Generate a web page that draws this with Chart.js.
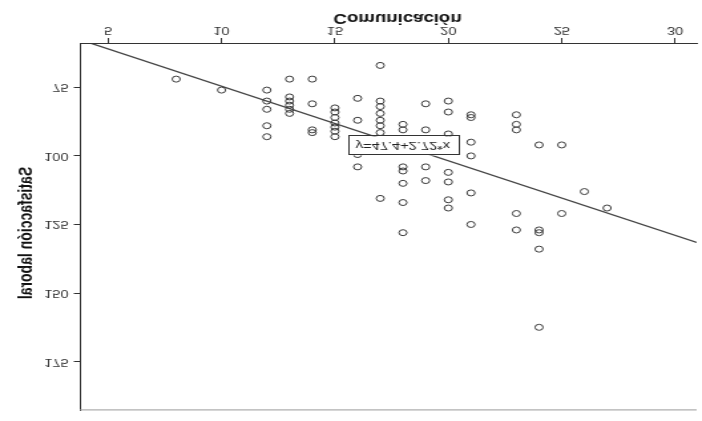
<!DOCTYPE html>
<html>
<head>
<meta charset="utf-8">
<script src="https://cdn.jsdelivr.net/npm/chart.js@4.4.1/dist/chart.umd.min.js"></script>
<style>
  html, body { margin: 0; padding: 0; background: #fff; overflow: hidden; }
  #wrap { width: 702px; height: 421px; position: relative; overflow: hidden; background: #fff; }
  /* the plot is drawn narrow, then stretched sideways and turned upside down */
  #c { position: absolute; left: 0; top: 0; width: 528px; height: 421px;
       transform-origin: 0 0; transform: matrix(1.3295, 0, 0, -1, 0, 421); }
</style>
</head>
<body>
<div id="wrap"><canvas id="c" width="528" height="421"></canvas></div>
<script>
// Comunicación (x) and Satisfacción laboral (y), one entry per respondent
const comunicacion = [
  8,
  10,
  12, 12, 12, 12, 12,
  13, 13, 13, 13, 13, 13,
  14, 14, 14, 14,
  15, 15, 15, 15, 15, 15, 15,
  16, 16, 16, 16,
  17, 17, 17, 17, 17, 17, 17, 17,
  18, 18, 18, 18, 18, 18, 18,
  19, 19, 19, 19,
  20, 20, 20, 20, 20, 20, 20,
  21, 21, 21, 21, 21, 21,
  23, 23, 23, 23, 23,
  24, 24, 24, 24, 24,
  25, 25,
  26,
  27
];
const satisfaccion = [
  72,
  76,
  76, 80, 83, 89, 93,
  72, 78.5, 80, 81.5, 83, 84.5,
  72, 81, 90.5, 91.5,
  82.5, 84, 86, 88, 89.5, 91, 93,
  79, 87, 99.5, 104,
  67, 80, 82, 84.5, 87, 89, 91.5, 115.5,
  88.5, 90.5, 104, 105.5, 110, 117, 128,
  81, 90.5, 104, 109,
  80, 84, 92, 106, 109.5, 116, 119,
  85, 86, 95, 100, 113.5, 125,
  85, 88.5, 90.5, 121, 127,
  96, 127, 128, 134, 162.5,
  96, 121,
  113,
  119
];

// fitted line y = 47.4 + 2.72*x
const intercept = 47.4;
const slope = 2.72;
const equationText = 'y=47.4+2.72*x';
const equationAtX = 18;

const xTicks = [5, 10, 15, 20, 25, 30];
const yTicks = [75, 100, 125, 150, 175];
const xRange = [3.75, 30.95];
const yRange = [59.2, 192.8];

const xTitle = 'Comunicación';
const yTitle = 'Satisfacción laboral';

const points = comunicacion.map((x, i) => ({ x, y: satisfaccion[i] }));
const fitLine = xRange.map(x => ({ x, y: intercept + slope * x }));

const FONT = '"Liberation Sans", Arial, sans-serif';

// closing line along the far side of the plot frame
const framePlugin = {
  id: 'frame',
  beforeDatasetsDraw(chart) {
    const { ctx, chartArea: a } = chart;
    ctx.save();
    ctx.strokeStyle = '#9a9a9a';
    ctx.lineWidth = 1;
    ctx.beginPath();
    ctx.moveTo(a.left, a.top + 0.5);
    ctx.lineTo(a.right, a.top + 0.5);
    ctx.stroke();
    ctx.restore();
  }
};

// boxed equation sitting on the fitted line
const equationPlugin = {
  id: 'equation',
  afterDatasetsDraw(chart) {
    const { ctx, scales: { x, y } } = chart;
    const px = x.getPixelForValue(equationAtX);
    const py = y.getPixelForValue(intercept + slope * equationAtX);
    ctx.save();
    ctx.font = '11px ' + FONT;
    const w = ctx.measureText(equationText).width + 12;
    const h = 19;
    ctx.fillStyle = '#fff';
    ctx.fillRect(px - w / 2, py - h / 2, w, h);
    ctx.strokeStyle = '#333';
    ctx.lineWidth = 1;
    ctx.strokeRect(Math.round(px - w / 2) + 0.5, Math.round(py - h / 2) + 0.5, Math.round(w), h);
    ctx.fillStyle = '#222';
    ctx.textAlign = 'center';
    ctx.textBaseline = 'middle';
    ctx.fillText(equationText, px, py + 0.5);
    ctx.restore();
  }
};

// axis titles
const titlesPlugin = {
  id: 'axisTitles',
  afterDraw(chart) {
    const { ctx } = chart;
    ctx.save();
    ctx.fillStyle = '#111';
    ctx.font = 'bold 14px ' + FONT;
    ctx.textAlign = 'center';
    ctx.textBaseline = 'middle';
    ctx.fillText(xTitle, 299, 403);
    ctx.translate(20, 188);
    ctx.rotate(-Math.PI / 2);
    ctx.fillText(yTitle, 0, 0);
    ctx.restore();
  }
};

new Chart(document.getElementById('c'), {
  type: 'scatter',
  data: {
    datasets: [
      {
        data: points,
        pointStyle: 'circle',
        pointRadius: 3,
        pointBorderWidth: 1,
        pointBorderColor: '#3a3a3a',
        pointBackgroundColor: 'rgba(255,255,255,0)',
        pointHoverRadius: 3
      },
      {
        type: 'line',
        data: fitLine,
        borderColor: '#444',
        borderWidth: 1.3,
        pointRadius: 0,
        fill: false
      }
    ]
  },
  options: {
    responsive: false,
    animation: false,
    devicePixelRatio: 1,
    layout: { padding: { top: 3, right: 0, bottom: 0, left: 0 } },
    plugins: { legend: { display: false }, tooltip: { enabled: false } },
    scales: {
      x: {
        type: 'linear',
        position: 'bottom',
        min: xRange[0],
        max: xRange[1],
        afterBuildTicks(s) { s.ticks = xTicks.map(value => ({ value })); },
        afterFit(s) { s.height = 44; },
        grid: { drawOnChartArea: false, drawTicks: true, tickLength: 6, color: '#333', lineWidth: 1 },
        border: { display: true, color: '#333', width: 1 },
        ticks: { font: { family: FONT, size: 11 }, color: '#333', padding: 1, maxRotation: 0, autoSkip: false },
        title: { display: false }
      },
      y: {
        type: 'linear',
        position: 'left',
        min: yRange[0],
        max: yRange[1],
        afterBuildTicks(s) { s.ticks = yTicks.map(value => ({ value })); },
        afterFit(s) { s.width = 60; },
        grid: { drawOnChartArea: false, drawTicks: true, tickLength: 4.5, color: '#333', lineWidth: 1 },
        border: { display: true, color: '#333', width: 1 },
        ticks: { font: { family: FONT, size: 11 }, color: '#333', padding: 4, autoSkip: false },
        title: { display: false }
      }
    }
  },
  plugins: [framePlugin, equationPlugin, titlesPlugin]
});
</script>
</body>
</html>
